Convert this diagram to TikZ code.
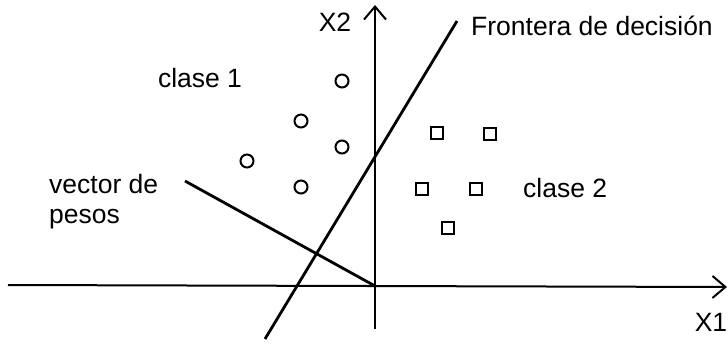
\documentclass[tikz,border=0pt]{standalone}
\usepackage{fontspec}
\setmainfont{Liberation Sans}
\usetikzlibrary{arrows.meta}
\begin{document}
\begin{tikzpicture}[x=1pt,y=-1pt,
  lbl/.style={font=\fontsize{26.5}{29}\selectfont, inner sep=0pt},
  c1/.style={circle, draw, line width=2pt, minimum size=13pt, inner sep=0pt},
  c2/.style={rectangle, draw, line width=2.2pt, minimum size=12pt, inner sep=0pt},
  axis/.style={line width=2pt, -{Straight Barb[length=13pt,width=22pt,line width=2pt]}},
  thick line/.style={line width=2.8pt}]
\useasboundingbox (0,0) rectangle (728,345);
% axes
\coordinate (xl) at (8,285);
\coordinate (xr) at (727,287);
\coordinate (yb) at (375,329);
\coordinate (yt) at (375,5);
\coordinate (O) at (375,286);
\draw[axis] (xl) -- (xr);
\draw[axis] (yb) -- (yt);
% decision boundary
\coordinate (db1) at (265,339);
\coordinate (db2) at (457,21);
\draw[thick line] (db1) -- (db2);
% weight vector
\coordinate (w) at (185,181);
\draw[thick line] (w) -- (O);
% class 1
\node[c1] (a1) at (342,81) {};
\node[c1] (a2) at (301,121) {};
\node[c1] (a3) at (342,147) {};
\node[c1] (a4) at (247,161) {};
\node[c1] (a5) at (301,187) {};
% class 2
\node[c2] (b1) at (437,133) {};
\node[c2] (b2) at (490,134) {};
\node[c2] (b3) at (422,189) {};
\node[c2] (b4) at (476,189) {};
\node[c2] (b5) at (448,228) {};
% labels
\node[lbl] (x2) at (335,22) {X2};
\node[lbl, anchor=west] (fd) at (471,26) {Frontera de decisión};
\node[lbl] (x1) at (711,322) {X1};
\node[lbl] (cl1) at (200,78) {clase 1};
\node[lbl, anchor=west] (cl2) at (523,188) {clase 2};
\node[lbl, anchor=base west] (vp1) at (49,193) {vector de};
\node[lbl, anchor=base west] (vp2) at (49,223) {pesos};
\end{tikzpicture}
\end{document}
